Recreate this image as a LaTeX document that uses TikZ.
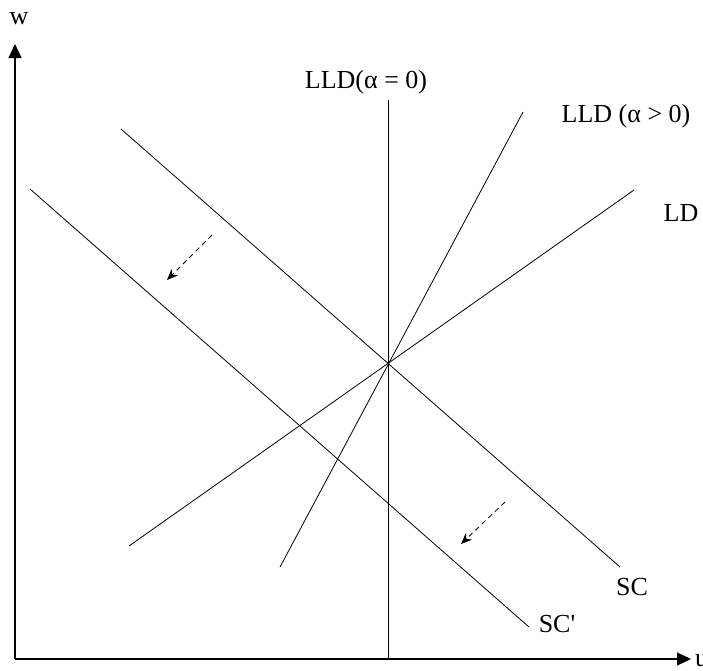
\documentclass[tikz,border=0pt]{standalone}
\usepackage{fontspec}
\setmainfont{Liberation Serif}[Ligatures=TeXOff]
\usetikzlibrary{arrows.meta}
\begin{document}
\begin{tikzpicture}[x=1pt,y=-1pt,
  curve/.style={line width=0.8pt},
  axisline/.style={line width=1.1pt,-{Triangle[length=14pt,width=13pt]}},
  shiftarrow/.style={line width=0.8pt,dashed,dash pattern=on 5pt off 4pt,-{Stealth[length=11pt,width=9pt]}},
  lab/.style={font=\fontsize{26}{30}\selectfont,inner sep=0pt}]
\useasboundingbox (0,0) rectangle (703,670);
% axes
\coordinate (O) at (15,659);
\coordinate (ytop) at (15,44);
\coordinate (xend) at (691,659);
\draw[axisline] (O) -- (ytop);
\draw[axisline] (O) -- (xend);
\node[lab] (w) at (19,19) {w};
\node[lab,anchor=west] (u) at (695,661) {u};
% curves
\coordinate (E) at (388,363);
\coordinate (v1) at (388,100);
\coordinate (v2) at (388,659);
\draw[curve] (v1) -- (v2);
\coordinate (a1) at (280,567);
\coordinate (a2) at (523,112);
\draw[curve] (a1) -- (a2);
\coordinate (d1) at (129,546);
\coordinate (d2) at (634,190);
\draw[curve] (d1) -- (d2);
\coordinate (s1) at (121,129);
\coordinate (s2) at (620,567);
\draw[curve] (s1) -- (s2);
\coordinate (t1) at (30,189);
\coordinate (t2) at (529,627);
\draw[curve] (t1) -- (t2);
% labels
\node[lab] (l0) at (366,82) {LLD(α = 0)};
\node[lab] (l1) at (626,116) {LLD (α > 0)};
\node[lab] (ld) at (681,213) {LD};
\node[lab] (sc) at (632,587) {SC};
\node[lab] (scp) at (557,624) {SC'};
% shift arrows
\coordinate (p1) at (212,235);
\coordinate (q1) at (167,280);
\draw[shiftarrow] (p1) -- (q1);
\coordinate (p2) at (505,502);
\coordinate (q2) at (461,544);
\draw[shiftarrow] (p2) -- (q2);
\end{tikzpicture}
\end{document}
